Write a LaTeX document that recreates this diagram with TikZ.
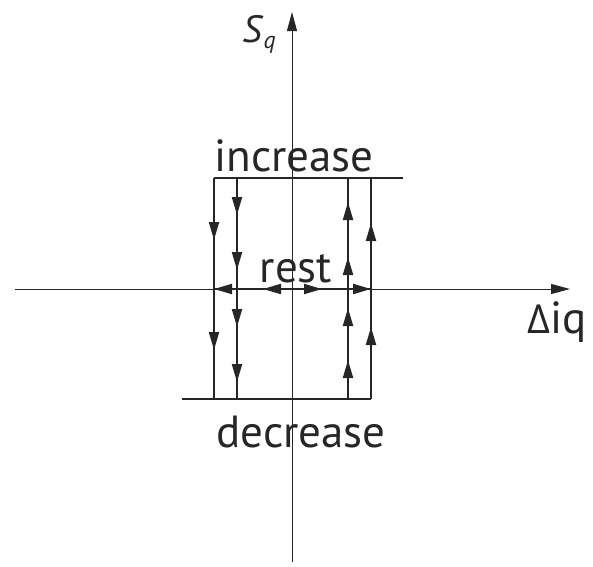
\documentclass[tikz,border=0pt]{standalone}
\usepackage{fontspec}
\setmainfont{PT Sans}
\newfontfamily\greekfont{Open Sans}
\usetikzlibrary{arrows.meta}
\tikzset{
  axis/.style={line width=1pt,black!85},
  bar/.style={line width=2.2pt,black!85},
  tip/.style={line width=2pt,black!85,-{Triangle[length=18pt,width=10pt]}},
  lbl/.style={font=\fontsize{45}{46}\selectfont,text=black!85,inner sep=0pt,anchor=base}
}
\begin{document}
\begin{tikzpicture}[x=1pt,y=-1pt]
\useasboundingbox (0,0) rectangle (593,566);
% axes
\coordinate (yb) at (292,562);
\coordinate (yt) at (292,12);
\coordinate (xl) at (15,289);
\coordinate (xr) at (570,289);
\draw[axis,-{Triangle[length=19pt,width=10pt]}] (yb) -- (yt);
\draw[axis,-{Triangle[length=19pt,width=10pt]}] (xl) -- (xr);
% rectangle lines
\coordinate (tl) at (214,178);
\coordinate (tr) at (403,178);
\coordinate (bl) at (182,399);
\coordinate (br) at (371,399);
\draw[bar] (tl) -- (tr);
\draw[bar] (bl) -- (br);
\draw[bar] (214,178) -- (214,399);
\draw[bar] (237,178) -- (237,399);
\draw[bar] (348,178) -- (348,399);
\draw[bar] (371,178) -- (371,399);
\draw[bar] (214,289) -- (371,289);
% down arrows
\foreach \y in {240,350} \draw[tip] (214,\y-17) -- (214,\y);
\foreach \y in {215,270,327,382} \draw[tip] (237,\y-17) -- (237,\y);
% up arrows
\foreach \y in {202,257,308,360} \draw[tip] (348,\y+17) -- (348,\y);
\foreach \y in {223,327} \draw[tip] (371,\y+17) -- (371,\y);
% horizontal arrows
\draw[tip] (231,289) -- (214,289);
\draw[tip] (280,289) -- (263,289);
\draw[tip] (305,289) -- (322,289);
\draw[tip] (353,289) -- (371,289);
% labels
\node[lbl] (inc) at (294,171) {increase};
\node[lbl] (rest) at (296,282) {rest};
\node[lbl] (dec) at (301,447) {decrease};
\node[lbl] (diq) at (557,333) {{\greekfont\fontsize{40}{40}\selectfont Δ}iq};
\node[lbl] (sq) at (259,42) {\fontsize{38}{38}\selectfont\textit{S}\raisebox{-6pt}{\fontsize{24}{24}\selectfont\textit{q}}};
\end{tikzpicture}
\end{document}
